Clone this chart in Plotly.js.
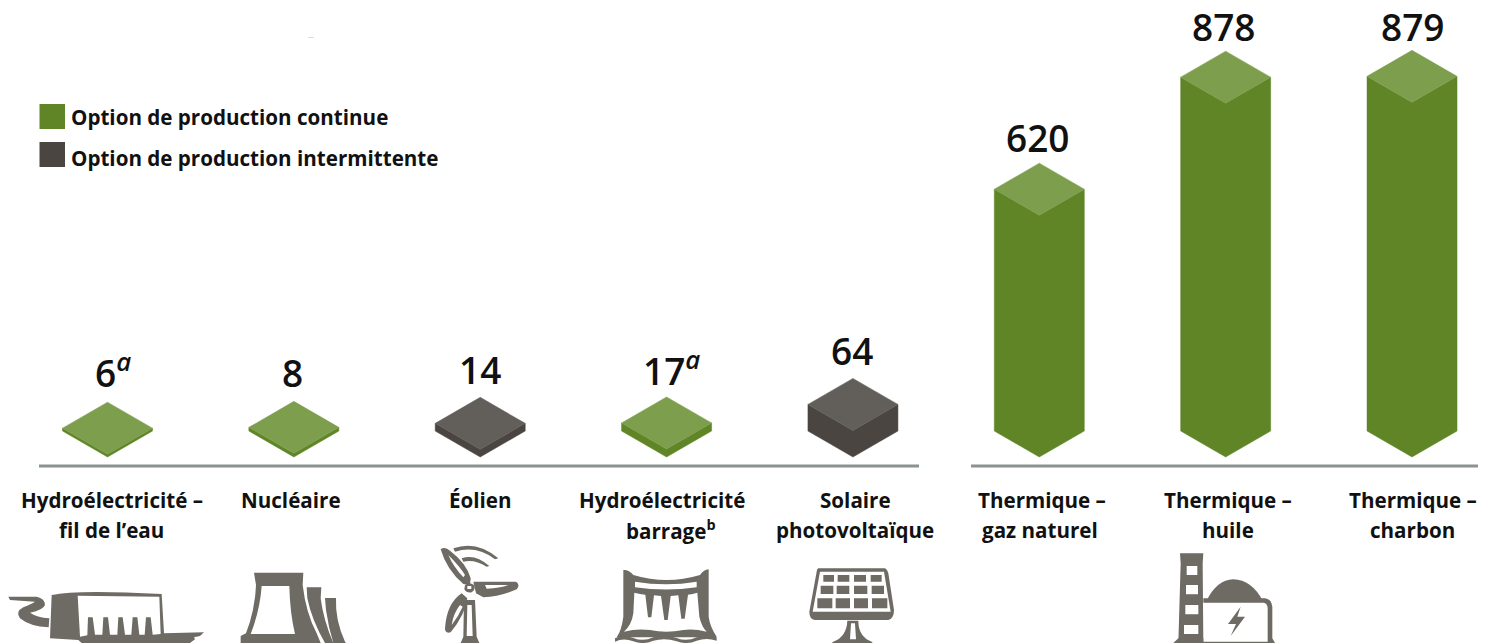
<!DOCTYPE html>
<html><head><meta charset="utf-8">
<script src="https://cdn.plot.ly/plotly-3.0.1.min.js"></script>
<style>html,body{margin:0;padding:0;background:#fff;overflow:hidden}#c{width:1494px;height:643px}</style>
</head><body><div id="c"></div>
<script>
// ---- data ----
const categories = ["Hydroélectricité –|fil de l’eau","Nucléaire","Éolien","Hydroélectricité|barrage<sup>b</sup>","Solaire|photovoltaïque","Thermique –|gaz naturel","Thermique –|huile","Thermique –|charbon"];
const valueLabels = ["6<sup><i>a</i></sup>","8","14","17<sup><i>a</i></sup>","64","620","878","879"];
const drawnHeights = [7,9,19,20,66,600,878,880];   // bar heights as measured on the picture (the artwork is not strictly to scale)
const modes = ["continue","continue","intermittente","continue","intermittente","continue","continue","continue"];
const legendLabels = ["Option de production continue","Option de production intermittente"];

// ---- geometry ----
const PX_PER_UNIT = 0.403, STEP = 186.36, CX0 = 107.5, BASE_PX = 457;
const HW = 45 / STEP, HH = 26 / PX_PER_UNIT;
const colors = {continue:{top:"#7d9f4d",side:"#5f8526"}, intermittente:{top:"#625e5a",side:"#4a4541"}};
const FONT = "'Open Sans', 'Noto Sans', sans-serif";
const TXT = "#111";

const traces = [];
categories.forEach((c,i)=>{
  const h = drawnHeights[i], col = colors[modes[i]];
  traces.push({type:"scatter",mode:"lines",fill:"toself",fillcolor:col.side,line:{width:0.5,color:col.side},hoverinfo:"skip",showlegend:false,
    x:[i-HW,i,i+HW,i+HW,i,i-HW,i-HW], y:[HH,0,HH,HH+h,h,HH+h,HH]});
  traces.push({type:"scatter",mode:"lines",fill:"toself",fillcolor:col.top,line:{width:0.5,color:col.top},hoverinfo:"skip",showlegend:false,
    x:[i-HW,i,i+HW,i,i-HW], y:[HH+h,h,HH+h,2*HH+h,HH+h]});
});
traces.push({type:"scatter",mode:"markers",x:[0],y:[0],xaxis:"x2",yaxis:"y2",marker:{opacity:0},hoverinfo:"skip",showlegend:false});

// ---- annotations ----
const annotations = [];
const labelCenters = [[112,111],[291],[480],[662,671],[855,855],[1042,1040],[1228,1228],[1413,1412]];
const labelYShift = [2,1,0,-1,0,-2,-3,-4];
const labelXShift = [5,-1,0,5,-1,-2,-2,0];
categories.forEach((c,i)=>{
  const h = drawnHeights[i];
  annotations.push({x:i,y:2*HH+h,xref:"x",yref:"y",yanchor:"bottom",yshift:labelYShift[i],xshift:labelXShift[i],showarrow:false,
    text:valueLabels[i],font:{family:FONT,size:37,color:"#111",weight:600}});
  c.split("|").forEach((t,j)=>{
    annotations.push({x:labelCenters[i][j],y:500+30*j,xref:"x2",yref:"y2",yanchor:"middle",xanchor:"center",showarrow:false,
      text:t,font:{family:FONT,size:20.6,color:TXT,weight:700}});
  });
});
legendLabels.forEach((t,i)=>{
  annotations.push({x:69,y:117+40.5*i,xref:"x2",yref:"y2",xanchor:"left",yanchor:"middle",showarrow:false,
    text:t,font:{family:FONT,size:20.6,color:TXT,weight:700}});
});

// ---- shapes: baselines, legend swatches, pictograms ----
const shapes = [];
const lineCol = "#8a9392";
[[39,919],[971,1478]].forEach(r=>shapes.push({type:"line",xref:"x2",yref:"y2",x0:r[0],x1:r[1],y0:466,y1:466,line:{color:lineCol,width:3}}));
shapes.push({type:"rect",xref:"x2",yref:"y2",x0:39.5,x1:65,y0:104,y1:129,fillcolor:"#5f8526",line:{width:0}});
shapes.push({type:"rect",xref:"x2",yref:"y2",x0:39.5,x1:65,y0:142,y1:167,fillcolor:"#4a4541",line:{width:0}});
shapes.push({type:"line",xref:"x2",yref:"y2",x0:308,x1:314,y0:37.5,y1:37.5,line:{color:"#dddddd",width:1}});

function toPath(ox,oy,d){
  let k=0;
  return d.replace(/-?\d+(\.\d+)?/g,n=>{const v=(k++%2===0)?ox+(+n)/3:oy+(+n)/3;return v.toFixed(2);});
}
const ICON = "#6e6a64";
function icon(ox,oy,d){shapes.push({type:"path",xref:"x2",yref:"y2",path:toPath(ox,oy,d),fillcolor:ICON,fillrule:"evenodd",line:{width:0}});}
function cell(x0,y0,x1,y1){return `M${x0} ${y0} L${x1} ${y0} L${x1} ${y1} L${x0} ${y1} Z `;}

// run-of-river
icon(0,530,"M155 195 Q230 178 485 192 L492 310 L612 307 L600 318 L582 322 L585 328 L570 339 L245 339 L235 330 L150 325 Z M233 197 L478 200 L482 312 L458 314 L452 262 L438 262 L434 314 L418 314 L412 262 L398 262 L394 314 L375 314 L368 262 L355 262 L352 314 L330 314 L324 262 L310 262 L307 314 L285 314 L278 262 L264 262 L262 316 L240 320 Z");
icon(0,530,"M25 200 L110 200 Q135 205 135 225 Q130 240 90 248 Q110 262 148 265 L146 292 Q90 290 60 265 Q45 245 70 232 Q95 222 105 215 L30 210 Z");
// nuclear
icon(0,530,"M975 204 L1008 204 Q1005 270 1035 335 L1038 339 L1000 339 Q985 290 978 240 Z");
icon(0,530,"M920 172 L964 172 L962 205 Q970 270 1000 339 L975 339 Q935 270 922 205 Z");
icon(0,530,"M762 128 L910 128 L908 165 Q918 250 950 310 L962 339 L722 339 L722 318 L738 310 Q765 240 768 165 Z M785 168 L868 168 Q870 250 885 312 L752 312 Q780 240 785 168 Z");
// wind
icon(420,530,"M132 210 L165 210 L170 320 L178 339 L122 339 L130 320 Z M142 225 L155 225 L158 318 L140 318 Z");
icon(420,530,"M62 58 Q75 48 90 62 Q140 100 152 145 L150 165 L130 162 Q80 120 62 58 Z M85 75 Q120 110 135 135 L130 142 Q100 110 85 75 Z");
icon(420,530,"M160 155 L288 155 Q302 165 290 178 Q240 200 190 202 L168 190 Z M195 165 L265 165 Q240 175 200 176 Z");
icon(420,530,"M125 190 L142 205 Q135 255 92 307 Q75 312 75 295 Q80 220 125 190 Z M120 225 L128 230 Q115 260 95 285 Q100 250 120 225 Z");
icon(420,530,"M135 165 Q148 155 162 165 Q168 178 155 187 Q140 190 133 178 Z M142 168 L154 168 L154 177 L142 177 Z");
icon(420,530,"M100 55 Q170 30 235 85 L225 88 Q170 45 105 65 Z");
icon(420,530,"M125 85 Q165 70 208 108 L200 110 Q165 88 130 95 Z");
// dam
icon(420,530,"M610 120 Q625 118 640 135 Q740 165 840 135 Q850 120 866 118 L866 260 Q870 290 890 320 L885 322 L590 322 Q605 300 610 260 Z M645 155 Q738 170 830 155 L830 172 Q738 185 645 172 Z M643 188 Q660 192 676 194 L684 262 L694 262 L702 196 L723 198 L733 270 L743 270 L752 198 L775 196 L784 266 L794 266 L804 194 Q818 192 832 188 L838 260 Q845 290 860 305 Q820 295 790 300 Q738 310 690 300 Q650 295 612 305 Q635 285 640 250 Z");
icon(420,530,"M585 325 Q610 312 640 324 Q670 336 700 322 Q735 312 770 324 Q800 336 830 322 Q860 312 890 322 L890 332 Q860 322 830 332 Q800 345 770 334 Q735 322 700 332 Q670 345 640 334 Q610 322 585 335 Z");
// solar
icon(790,530,"M172 272 L205 272 Q205 320 245 335 L248 339 L125 339 L130 335 Q170 320 172 272 Z M183 280 L195 280 L198 328 L180 328 Z");
icon(790,530,"M85 115 L285 115 Q292 118 295 130 L312 240 Q312 265 295 270 L75 270 Q58 268 58 245 L80 125 Q80 117 85 115 Z M90 125 L282 125 L302 245 L68 245 Z "
  +cell(100,135,132,155)+cell(143,135,178,155)+cell(192,135,228,155)+cell(242,135,275,155)
  +cell(92,167,130,192)+cell(140,167,178,192)+cell(192,167,232,192)+cell(245,167,282,192)
  +cell(82,205,127,235)+cell(137,205,180,235)+cell(192,205,234,235)+cell(246,205,292,235));
// thermal
icon(790,530,"M1250 212 Q1280 150 1330 148 Q1385 150 1418 212 Z");
icon(790,530,"M1240 205 L1425 205 Q1445 208 1447 230 L1447 325 L1455 339 L1150 339 L1165 325 L1240 325 Z M1240 218 L1420 218 Q1433 220 1433 235 L1433 335 L1240 335 Z M1352 230 L1314 282 L1338 282 L1322 318 L1365 260 L1342 260 Z");
icon(790,530,"M1170 70 L1240 70 L1238 100 L1240 339 L1165 339 L1172 100 Z M1190 108 L1222 108 L1222 135 L1190 135 Z M1188 165 L1224 165 L1224 193 L1188 193 Z M1186 225 L1225 225 L1225 253 L1186 253 Z M1182 285 L1225 285 L1225 312 L1182 312 Z");

const hidden = {visible:false,fixedrange:true};
const layout = {
  width:1494,height:643,margin:{l:0,r:0,t:0,b:0},paper_bgcolor:"#fff",plot_bgcolor:"rgba(0,0,0,0)",showlegend:false,
  xaxis:Object.assign({},hidden,{range:[-CX0/STEP,(1494-CX0)/STEP]}),
  yaxis:Object.assign({},hidden,{range:[-(643-BASE_PX)/PX_PER_UNIT,BASE_PX/PX_PER_UNIT]}),
  xaxis2:Object.assign({},hidden,{range:[0,1494],overlaying:"x",anchor:"y2"}),
  yaxis2:Object.assign({},hidden,{range:[643,0],overlaying:"y",anchor:"x2"}),
  shapes, annotations
};
Plotly.newPlot("c",traces,layout,{staticPlot:true,displayModeBar:false});
</script></body></html>
